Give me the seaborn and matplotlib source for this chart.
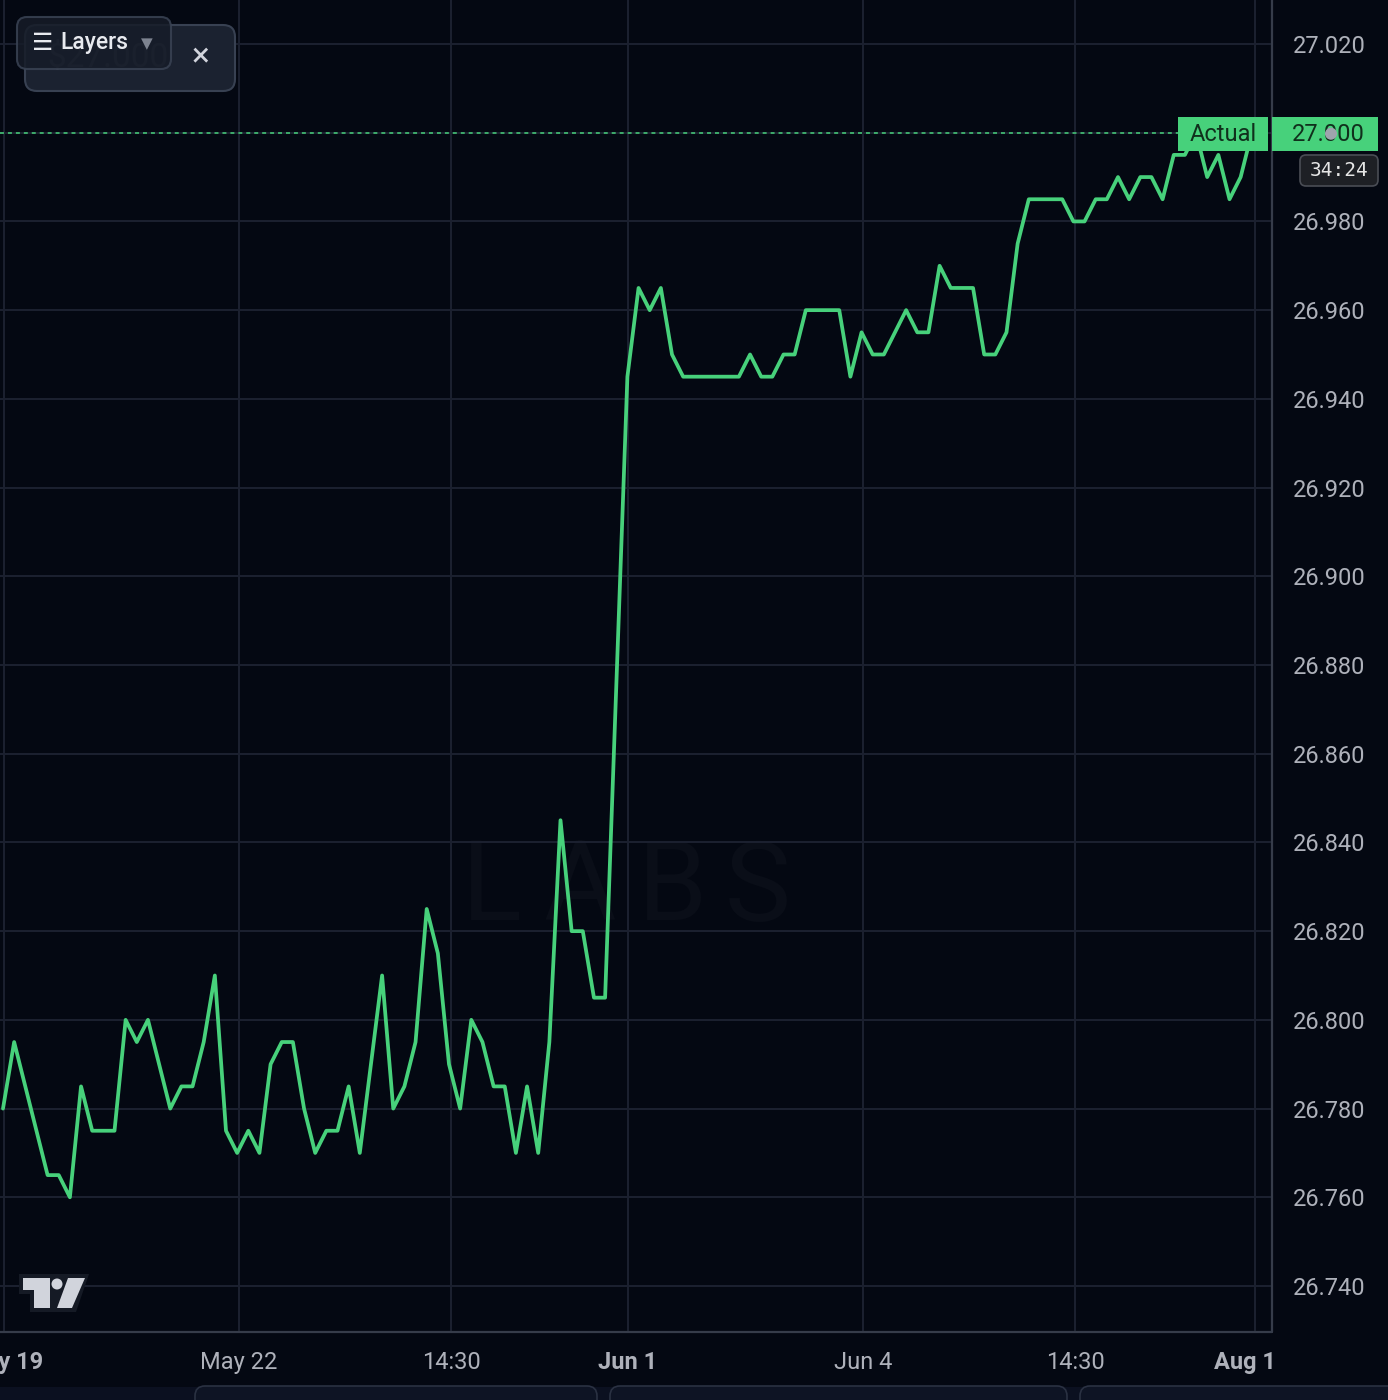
import matplotlib
matplotlib.use("Agg")
import matplotlib.pyplot as plt
import matplotlib.transforms as mtransforms
from matplotlib.patches import FancyBboxPatch, Rectangle, Circle, Polygon
from matplotlib.lines import Line2D
import pandas as pd
import seaborn as sns

# price samples, evenly spaced in time
prices = [
    26.780, 26.795, 26.785, 26.775, 26.765, 26.765, 26.760, 26.785, 26.775, 26.775,
    26.775, 26.800, 26.795, 26.800, 26.790, 26.780, 26.785, 26.785, 26.795, 26.810,
    26.775, 26.770, 26.775, 26.770, 26.790, 26.795, 26.795, 26.780, 26.770, 26.775,
    26.775, 26.785, 26.770, 26.790, 26.810, 26.780, 26.785, 26.795, 26.825, 26.815,
    26.790, 26.780, 26.800, 26.795, 26.785, 26.785, 26.770, 26.785, 26.770, 26.795,
    26.845, 26.820, 26.820, 26.805, 26.805, 26.875, 26.945, 26.965, 26.960, 26.965,
    26.950, 26.945, 26.945, 26.945, 26.945, 26.945, 26.945, 26.950, 26.945, 26.945,
    26.950, 26.950, 26.960, 26.960, 26.960, 26.960, 26.945, 26.955, 26.950, 26.950,
    26.955, 26.960, 26.955, 26.955, 26.970, 26.965, 26.965, 26.965, 26.950, 26.950,
    26.955, 26.975, 26.985, 26.985, 26.985, 26.985, 26.980, 26.980, 26.985, 26.985,
    26.990, 26.985, 26.990, 26.990, 26.985, 26.995, 26.995, 27.000, 26.990, 26.995,
    26.985, 26.990, 27.000,
]
xtick_pos = [0.09, 21.17, 40.18, 56.05, 77.13, 96.14, 112.29]
xtick_labels = ["May 19", "May 22", "14:30", "Jun 1", "Jun 4", "14:30", "Aug 1"]
xtick_bold = ["May 19", "Jun 1", "Aug 1"]
ytick_vals = [26.740, 26.760, 26.780, 26.800, 26.820, 26.840, 26.860, 26.880,
              26.900, 26.920, 26.940, 26.960, 26.980, 27.000, 27.020]
actual_value = 27.000
countdown = "34:24"

W, H = 1388, 1400
BG = "#040812"
GRID = "#1c2130"
BORDER = "#363c4a"
GREEN = "#47d17b"
TICK = "#aeb1ba"

# screen geometry of the original chart (pixels)
X0, STEP = 3, 11.15
PLOT_R, PLOT_B = 1272, 1332
Y_REF, Y_REF_PX, PPU = 27.020, 44, (1286 - 44) / 0.28


def val_to_px(v):
    return Y_REF_PX + (Y_REF - v) * PPU


sns.set_style("darkgrid", rc={
    "axes.facecolor": BG,
    "figure.facecolor": BG,
    "grid.color": GRID,
    "axes.edgecolor": BG,
})
plt.rcParams["font.family"] = ["Roboto", "DejaVu Sans"]

df = pd.DataFrame({"idx": range(len(prices)), "price": prices})

fig = plt.figure(figsize=(W / 100, H / 100), dpi=100, facecolor=BG)
pix = mtransforms.Affine2D().scale(1, -1).translate(0, H)

ax = fig.add_axes([0, (H - PLOT_B) / H, PLOT_R / W, PLOT_B / H])
sns.lineplot(data=df, x="idx", y="price", ax=ax, color=GREEN, linewidth=2.7, zorder=3)
ax.set_xlim(-X0 / STEP, (PLOT_R - X0) / STEP)
ax.set_ylim(Y_REF - (PLOT_B - Y_REF_PX) / PPU, Y_REF + Y_REF_PX / PPU)
ax.set_xticks(xtick_pos)
ax.set_xticklabels(xtick_labels)
ax.set_yticks(ytick_vals)
ax.set_yticklabels([])
ax.set_xlabel("")
ax.set_ylabel("")
ax.grid(True, color=GRID, linewidth=1.4)
ax.tick_params(axis="x", length=0, pad=14, labelsize=17, labelcolor=TICK)
ax.tick_params(axis="y", length=0)
for lbl in ax.get_xticklabels():
    if lbl.get_text() in xtick_bold:
        lbl.set_fontweight("bold")
# the last date label sits a little left of its grid line
last_lbl = ax.get_xticklabels()[-1]
last_lbl.set_transform(last_lbl.get_transform()
                       + mtransforms.ScaledTranslation(-0.10, 0, fig.dpi_scale_trans))
for s in ax.spines.values():
    s.set_visible(False)

# dotted "actual" level
ax.axhline(actual_value, xmin=0, xmax=1178 / PLOT_R, color=GREEN, lw=1.1,
           ls=(0, (2.6, 2.6)), zorder=2)

# faint watermark
for ch, cx in zip("LABS", [492, 580, 672, 758]):
    ax.text(cx, 890, ch, transform=pix, ha="center", va="center", fontsize=80,
            color="#0a0e18", zorder=0.3)

# price scale panel on the right
ax2 = fig.add_axes([PLOT_R / W, 0, (W - PLOT_R) / W, 1])
ax2.set_facecolor(BG)
ax2.set_ylim(Y_REF - (H - Y_REF_PX) / PPU, Y_REF + Y_REF_PX / PPU)
ax2.set_xlim(0, 1)
ax2.grid(False)
ax2.set_xticks([])
ax2.set_yticks(ytick_vals)
ax2.set_yticklabels([f"{v:.3f}" for v in ytick_vals])
ax2.tick_params(axis="y", left=False, labelleft=False, right=True, labelright=True,
                length=0, pad=-(W - 1293) * 0.72, labelsize=17, labelcolor=TICK)
for s in ax2.spines.values():
    s.set_visible(False)

# chart borders
fig.add_artist(Line2D([PLOT_R, PLOT_R], [0, PLOT_B], transform=pix, color=BORDER, lw=1.6, zorder=5))
fig.add_artist(Line2D([0, PLOT_R], [PLOT_B, PLOT_B], transform=pix, color=BORDER, lw=1.6, zorder=5))

# price tags
ty = val_to_px(actual_value)
fig.add_artist(Rectangle((1178, ty - 16), 90, 34, transform=pix, fc=GREEN, ec="none", zorder=6))
fig.add_artist(Rectangle((1272, ty - 16), 106, 34, transform=pix, fc=GREEN, ec="none", zorder=6))
fig.text(1223, ty + 2, "Actual", transform=pix, ha="center", va="center", fontsize=17,
         color="#10301c", zorder=7)
fig.text(1328, ty + 2, f"{actual_value:.3f}", transform=pix, ha="center", va="center",
         fontsize=17, color="#10301c", zorder=7)
fig.add_artist(Circle((1331, ty + 1), 6, transform=pix, fc="#9fa4ad", ec="none", zorder=8))
fig.add_artist(FancyBboxPatch((1300, 155), 78, 31, boxstyle="round,pad=0,rounding_size=6",
                              transform=pix, fc="#1e2025", ec="#4a4d55", lw=1.2, zorder=6))
fig.text(1339, 171, countdown, transform=pix, ha="center", va="center", fontsize=14,
         family="DejaVu Sans Mono", color="#e6e6e6", zorder=7)

# layers widget
fig.add_artist(FancyBboxPatch((25, 25), 210, 66, boxstyle="round,pad=0,rounding_size=12",
                              transform=pix, fc="#1b2230", ec="#384152", lw=1.5, zorder=10))
fig.text(108, 58, "$27.000", transform=pix, ha="center", va="center", fontsize=24,
         color="#353c4a", zorder=11)
fig.text(200, 57, "×", transform=pix, ha="center", va="center", fontsize=24,
         color="#d1d4dc", zorder=11)
fig.add_artist(FancyBboxPatch((17, 17), 154, 52, boxstyle="round,pad=0,rounding_size=10",
                              transform=pix, fc="#161c28", ec="#3a4354", lw=1.5, alpha=0.85,
                              zorder=12))
fig.text(43, 43, "☰", transform=pix, ha="center", va="center", fontsize=17,
         family="DejaVu Sans", color="#e8eaef", zorder=13)
fig.text(60, 43, "Layers", transform=pix, ha="left", va="center", fontsize=16.5,
         fontweight="medium", color="#e8eaef", zorder=13)
fig.text(147, 44, "▼", transform=pix, ha="center", va="center", fontsize=11,
         family="DejaVu Sans", color="#7d8390", zorder=13)

# tradingview mark
fig.add_artist(Polygon([(19, 1274), (89, 1274), (76, 1312), (30, 1312), (30, 1294), (19, 1294)],
                       transform=pix, fc="#151a25", ec="none", zorder=6))
fig.add_artist(Polygon([(23, 1278), (50, 1278), (50, 1308), (34, 1308), (34, 1290), (23, 1290)],
                       transform=pix, fc="#d1d4dc", ec="none", zorder=7))
fig.add_artist(Circle((57, 1284), 5.5, transform=pix, fc="#d1d4dc", ec="none", zorder=7))
fig.add_artist(Polygon([(68, 1278), (85, 1278), (72, 1308), (57, 1308)],
                       transform=pix, fc="#d1d4dc", ec="none", zorder=7))

# strip of the page below the chart
fig.add_artist(Rectangle((0, 1387), W, 13, transform=pix, fc="#0b1020", ec="none", zorder=6))
for bx, bw in [(195, 402), (610, 457), (1080, 330)]:
    fig.add_artist(FancyBboxPatch((bx, 1386), bw, 30, boxstyle="round,pad=0,rounding_size=10",
                                  transform=pix, fc="#0e1424", ec="#2a3142", lw=1.2, zorder=7))

fig.savefig("out.png", dpi=100, facecolor=BG)
